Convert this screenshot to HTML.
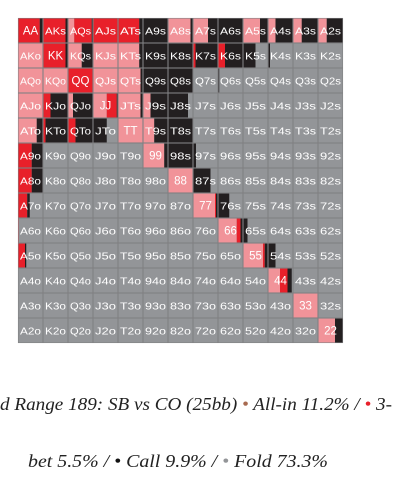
<!DOCTYPE html>
<html><head><meta charset="utf-8"><style>
html,body{margin:0;padding:0;background:#fff;width:400px;height:489px;overflow:hidden}
svg{display:block}
</style></head><body>
<svg id="chart" width="400" height="489" viewBox="0 0 400 489" xmlns="http://www.w3.org/2000/svg">
<g id="grid"></g>
<text x="0" y="410" font-family="Liberation Serif, serif" font-style="italic" font-size="18" fill="#222" textLength="392" lengthAdjust="spacingAndGlyphs">d Range 189: SB vs CO (25bb) <tspan fill="#a86a50">•</tspan> All-in 11.2% / <tspan fill="#e8202a">•</tspan> 3-</text>
<text x="28" y="467" font-family="Liberation Serif, serif" font-style="italic" font-size="18" fill="#222" textLength="300" lengthAdjust="spacingAndGlyphs">bet 5.5% / <tspan fill="#111">•</tspan> Call 9.9% / <tspan fill="#939598">•</tspan> Fold 73.3%</text>
</svg>
<script>
const ranks = ["A","K","Q","J","T","9","8","7","6","5","4","3","2"];
const seriesNames = ["allin","raise","call"];
// per-cell fractions [allin, 3-bet, call]; fold = remainder
const mix = {
 "AA":[0,.87,.13],"AKs":[0,.9,.1],"AQs":[.25,.7,.05],"AJs":[0,1,0],"ATs":[0,.85,.15],"A9s":[0,0,1],"A8s":[.9,0,.1],"A7s":[.6,0,.4],"A6s":[0,0,1],"A5s":[.68,0,.32],"A4s":[.3,0,.7],"A3s":[.35,0,.65],"A2s":[.35,0,.65],
 "AKo":[1,0,0],"KK":[0,.9,.1],"KQs":[.55,0,.45],"KJs":[1,0,0],"KTs":[.85,0,.15],"K9s":[0,0,1],"K8s":[0,0,1],"K7s":[0,.1,.9],"K6s":[0,.28,.72],"K5s":[0,0,.5],"K4s":[0,0,.08],
 "AQo":[1,0,0],"KQo":[1,0,0],"QQ":[0,1,0],"QJs":[1,0,0],"QTs":[.9,0,.1],"Q9s":[0,0,1],"Q8s":[0,0,1],"Q6s":[0,0,.05],
 "AJo":[1,0,0],"KJo":[0,.3,.7],"QJo":[.2,0,.8],"JJ":[.55,.4,.05],"JTs":[.9,0,.1],"J9s":[.3,0,.7],"J8s":[0,0,.8],
 "ATo":[.75,0,.25],"KTo":[0,.1,.9],"QTo":[0,.3,.7],"JTo":[0,0,.55],"TT":[1,0,0],"T9s":[.45,0,.55],"T8s":[0,0,1],
 "A9o":[0,.55,.45],"99":[.85,0,.15],"98s":[0,0,1],"97s":[0,0,.12],
 "A8o":[0,.55,.45],"88":[1,0,0],"87s":[0,0,.7],
 "A7o":[0,.37,.1],"77":[.88,.04,.08],"76s":[0,0,.45],
 "A6o":[0,.03,0],"66":[.75,.15,.1],"65s":[0,0,.18],
 "A5o":[0,.28,.05],"55":[.8,.07,.13],"54s":[0,0,.3],
 "44":[.48,.3,.17],"33":[1,0,0],"22":[.68,0,.32]
};
const colors = ["#f19399","#e8202a","#231f20"];
const foldColor = "#939598";
const x0 = 18, y0 = 18, cell = 25;
const NS = "http://www.w3.org/2000/svg";
const g = document.getElementById("grid");
function cx(i){return x0 + i*cell;}
function cy(j){return y0 + j*cell;}
function label(r,c){ if(r===c) return ranks[r]+ranks[c]; return r<c ? ranks[r]+ranks[c]+"s" : ranks[c]+ranks[r]+"o"; }
for(let r=0;r<13;r++){for(let c=0;c<13;c++){
  const name = label(r,c);
  const m = mix[name] || [0,0,0];
  const cg = document.createElementNS(NS,"g");
  
  
  const bg = document.createElementNS(NS,"rect");
  bg.setAttribute("x",cx(c));bg.setAttribute("y",cy(r));bg.setAttribute("width",cell);bg.setAttribute("height",cell);bg.setAttribute("fill",foldColor);
  cg.appendChild(bg);
  let off = 0;
  for(let k=0;k<3;k++){ if(m[k]>0){
    const s = document.createElementNS(NS,"rect");
    
    
    s.setAttribute("x",cx(c)+off*cell);s.setAttribute("y",cy(r));s.setAttribute("width",m[k]*cell);s.setAttribute("height",cell);s.setAttribute("fill",colors[k]);
    cg.appendChild(s); off += m[k]; } }
  const b = document.createElementNS(NS,"rect");
  b.setAttribute("x",cx(c)+.25);b.setAttribute("y",cy(r)+.25);b.setAttribute("width",cell-.5);b.setAttribute("height",cell-.5);b.setAttribute("fill","none");b.setAttribute("stroke","#808183");b.setAttribute("stroke-width","0.6");
  cg.appendChild(b);
  const t = document.createElementNS(NS,"text");
  
  
  t.setAttribute("x",cx(c)+cell/2);t.setAttribute("y",cy(r)+16.5);t.setAttribute("text-anchor","middle");
  t.setAttribute("font-family","Liberation Sans, sans-serif");t.setAttribute("font-size", name.length>2?"10.5":"11.5");t.setAttribute("fill","#fff");
  if(name.length>2){t.setAttribute("textLength","21");t.setAttribute("lengthAdjust","spacingAndGlyphs");}
  t.textContent = name;
  cg.appendChild(t);
  g.appendChild(cg);
}}
</script>
</body></html>
